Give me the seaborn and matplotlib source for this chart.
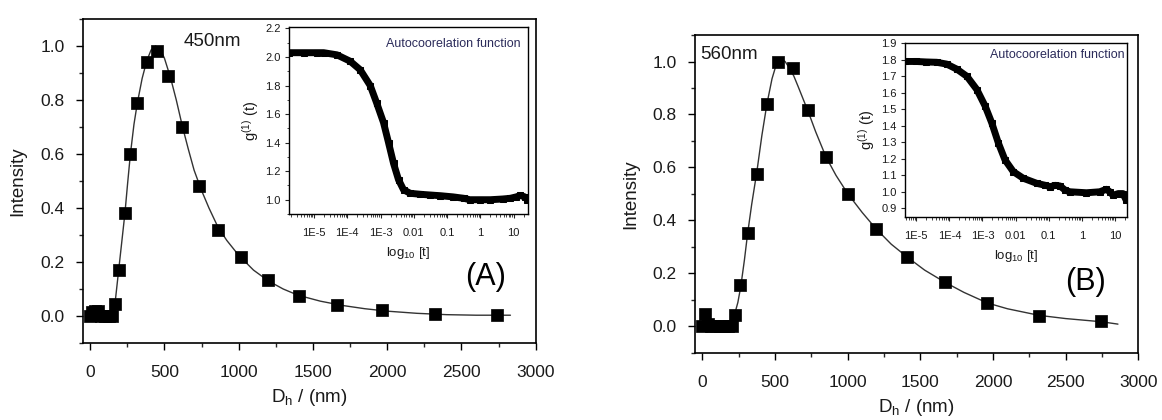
import numpy as np
import pandas as pd
import seaborn as sns
import matplotlib.pyplot as plt
from matplotlib.ticker import MultipleLocator, FixedLocator, FixedFormatter, LogLocator, NullFormatter

# ---- panel A : size distribution (points + fit) ----
a_dh = [0, 15, 35, 55, 75, 100, 125, 150, 165, 192, 234, 271, 318, 381, 450, 522,
        619, 731, 863, 1015, 1199, 1405, 1662, 1963, 2323, 2739]
a_int = [0.0, 0.015, 0.02, 0.02, 0.0, 0.0, 0.0, 0.0, 0.045, 0.17, 0.38, 0.60, 0.79, 0.94,
         0.98, 0.89, 0.70, 0.48, 0.32, 0.217, 0.135, 0.075, 0.041, 0.021, 0.009, 0.003]
a_fit_x = [120, 150, 170, 192, 212, 234, 252, 271, 295, 318, 350, 381, 410, 440, 470, 500,
           540, 580, 620, 660, 700, 750, 800, 860, 920, 1000, 1100, 1200, 1300, 1400,
           1550, 1700, 1850, 2000, 2200, 2400, 2600, 2830]
a_fit_y = [0.0, 0.01, 0.06, 0.17, 0.27, 0.38, 0.49, 0.60, 0.71, 0.79, 0.88, 0.945, 0.985,
           1.0, 0.99, 0.955, 0.885, 0.80, 0.705, 0.62, 0.54, 0.465, 0.40, 0.33, 0.28, 0.225,
           0.17, 0.13, 0.10, 0.077, 0.055, 0.039, 0.027, 0.018, 0.01, 0.005, 0.003, 0.003]

# ---- panel B ----
b_dh = [0, 18, 40, 60, 90, 120, 150, 180, 205, 222, 261, 312, 376, 445, 519, 621, 726,
        851, 1002, 1194, 1406, 1670, 1961, 2319, 2746]
b_int = [0.0, 0.048, 0.01, 0.0, 0.0, 0.0, 0.0, 0.0, 0.0, 0.042, 0.155, 0.354, 0.576, 0.839,
         1.0, 0.976, 0.815, 0.64, 0.50, 0.369, 0.263, 0.168, 0.086, 0.039, 0.020]
b_fit_x = [100, 150, 190, 220, 245, 265, 290, 312, 340, 376, 410, 445, 480, 510, 540, 570,
           600, 630, 660, 700, 726, 780, 851, 920, 1002, 1100, 1194, 1300, 1406, 1530, 1670,
           1800, 1961, 2100, 2319, 2500, 2746, 2860]
b_fit_y = [0.0, 0.0, 0.01, 0.04, 0.09, 0.15, 0.25, 0.35, 0.46, 0.585, 0.72, 0.84, 0.935,
           0.99, 1.01, 1.0, 0.975, 0.945, 0.905, 0.85, 0.815, 0.735, 0.64, 0.57, 0.50, 0.43,
           0.369, 0.31, 0.263, 0.212, 0.166, 0.128, 0.088, 0.066, 0.041, 0.029, 0.017, 0.008]

# ---- insets : autocorrelation g(1)(t), t given as log10 ----
a_logt = [-5.74, -5.3, -4.9, -4.71, -4.31, -3.91, -3.61, -3.31, -3.12, -2.91, -2.76, -2.61,
          -2.46, -2.31, -2.11, -1.8, -1.51, -1.2, -0.83, -0.5, -0.32, 0.0, 0.3, 0.67, 0.9,
          1.08, 1.2, 1.33, 1.41]
a_g = [2.03, 2.03, 2.03, 2.03, 2.015, 1.97, 1.91, 1.80, 1.68, 1.54, 1.40, 1.255, 1.14, 1.07,
       1.045, 1.038, 1.033, 1.028, 1.02, 1.01, 1.0, 1.0, 1.0, 1.005, 1.01, 1.02, 1.03, 1.02, 1.0]
b_logt = [-5.33, -5.0, -4.7, -4.38, -4.08, -3.77, -3.47, -3.17, -2.92, -2.72, -2.52, -2.32,
          -2.07, -1.77, -1.36, -1.1, -0.96, -0.8, -0.66, -0.5, -0.36, 0.14, 0.54, 0.74, 0.85,
          0.94, 1.1, 1.24, 1.34]
b_g = [1.79, 1.79, 1.787, 1.785, 1.774, 1.743, 1.70, 1.62, 1.52, 1.418, 1.296, 1.194, 1.123,
       1.083, 1.052, 1.04, 1.032, 1.04, 1.036, 1.01, 1.001, 0.995, 1.001, 1.016, 1.0, 0.98,
       0.99, 0.99, 0.95]

log_ticks = [1e-5, 1e-4, 1e-3, 1e-2, 1e-1, 1, 10]
log_labels = ["1E-5", "1E-4", "1E-3", "0.01", "0.1", "1", "10"]

sns.set_style("ticks")
plt.rcParams['font.family'] = ['Liberation Sans', 'DejaVu Sans']
plt.rcParams['mathtext.default'] = 'regular'
txt = '#1a1a1a'

fig = plt.figure(figsize=(11.62, 4.2), dpi=100)


def main_panel(rect, dx, dy, fx, fy, tag, tag_xy, size_txt, size_xy):
    ax = fig.add_axes(rect)
    sns.lineplot(x=fx, y=fy, ax=ax, color='#333333', lw=1.0, sort=False)
    sns.scatterplot(x=dx, y=dy, ax=ax, marker='s', s=72, color='black', edgecolor='black',
                    linewidth=0.5, zorder=3)
    ax.set_xlim(-50, 3000)
    ax.set_ylim(-0.1, 1.1)
    ax.xaxis.set_major_locator(MultipleLocator(500))
    ax.xaxis.set_minor_locator(MultipleLocator(250))
    ax.yaxis.set_major_locator(FixedLocator([0, 0.2, 0.4, 0.6, 0.8, 1.0]))
    ax.yaxis.set_minor_locator(MultipleLocator(0.1))
    ax.set_yticklabels(["0.0", "0.2", "0.4", "0.6", "0.8", "1.0"])
    ax.tick_params(which='major', direction='out', length=5, width=1, labelsize=12.5,
                   colors='black', labelcolor=txt, pad=8)
    ax.tick_params(axis='x', which='major', pad=11)
    ax.tick_params(which='minor', direction='out', length=3, width=1)
    for sp in ax.spines.values():
        sp.set_visible(True)
        sp.set_linewidth(1.2)
        sp.set_color('black')
    ax.set_xlabel(r"D$_{h}$ / (nm)", fontsize=13.5, color=txt, labelpad=5)
    ax.set_ylabel("Intensity", fontsize=13.5, color=txt, labelpad=10)
    ax.text(size_xy[0], size_xy[1], size_txt, fontsize=13.5, color=txt, va='center')
    ax.text(tag_xy[0], tag_xy[1], tag, fontsize=22, color='black', ha='center', va='center')
    return ax


def inset_panel(rect, logt, g, ylim, yticks, yminor, txt_xy):
    ax = fig.add_axes(rect)
    df = pd.DataFrame({'t': 10.0 ** np.array(logt), 'g': g})
    sns.lineplot(data=df, x='t', y='g', ax=ax, color='black', lw=5, sort=False,
                 marker='s', markersize=4.5, markeredgecolor='black')
    ax.set_xscale('log')
    ax.set_xlim(10.0 ** (logt[0] - 0.01), 10.0 ** (logt[-1] + 0.02))
    ax.set_ylim(*ylim)
    ax.xaxis.set_major_locator(FixedLocator(log_ticks))
    ax.xaxis.set_major_formatter(FixedFormatter(log_labels))
    ax.xaxis.set_minor_locator(LogLocator(base=10, subs=np.arange(2, 10), numticks=20))
    ax.xaxis.set_minor_formatter(NullFormatter())
    ax.yaxis.set_major_locator(FixedLocator(yticks))
    ax.set_yticklabels([f"{v:.1f}" for v in yticks])
    if yminor:
        ax.yaxis.set_minor_locator(MultipleLocator(yminor))
    ax.tick_params(which='major', direction='out', length=3, width=0.8, labelsize=8,
                   labelcolor=txt, pad=3)
    ax.tick_params(axis='x', which='major', pad=7)
    ax.tick_params(which='minor', direction='out', length=1.8, width=0.6)
    for sp in ax.spines.values():
        sp.set_visible(True)
        sp.set_linewidth(1.0)
        sp.set_color('black')
    ax.set_xlabel(r"log$_{10}$ [t]", fontsize=9.5, color=txt, labelpad=5)
    ax.set_ylabel(r"g$^{(1)}$ (t)", fontsize=10.5, color=txt, labelpad=3)
    ax.text(txt_xy[0], txt_xy[1], "Autocoorelation function", transform=ax.transAxes,
            fontsize=9, color='#2b2b5a', ha='right', va='center')
    return ax


main_panel([0.0712, 0.1833, 0.3898, 0.7714], a_dh, a_int, a_fit_x, a_fit_y,
           "(A)", (2665, 0.146), "450nm", (630, 1.015))
main_panel([0.5981, 0.1602, 0.3815, 0.7564], b_dh, b_int, b_fit_x, b_fit_y,
           "(B)", (2634, 0.168), "560nm", (-15, 1.028))

inset_panel([0.2487, 0.4905, 0.2057, 0.4452], a_logt, a_g, (0.9, 2.21),
            [1.0, 1.2, 1.4, 1.6, 1.8, 2.0, 2.2], 0.1, (0.967, 0.91))
inset_panel([0.7788, 0.4840, 0.1910, 0.4129], b_logt, b_g, (0.85, 1.9),
            [0.9, 1.0, 1.1, 1.2, 1.3, 1.4, 1.5, 1.6, 1.7, 1.8, 1.9], None, (0.99, 0.93))

fig.savefig("out.png", dpi=100)
